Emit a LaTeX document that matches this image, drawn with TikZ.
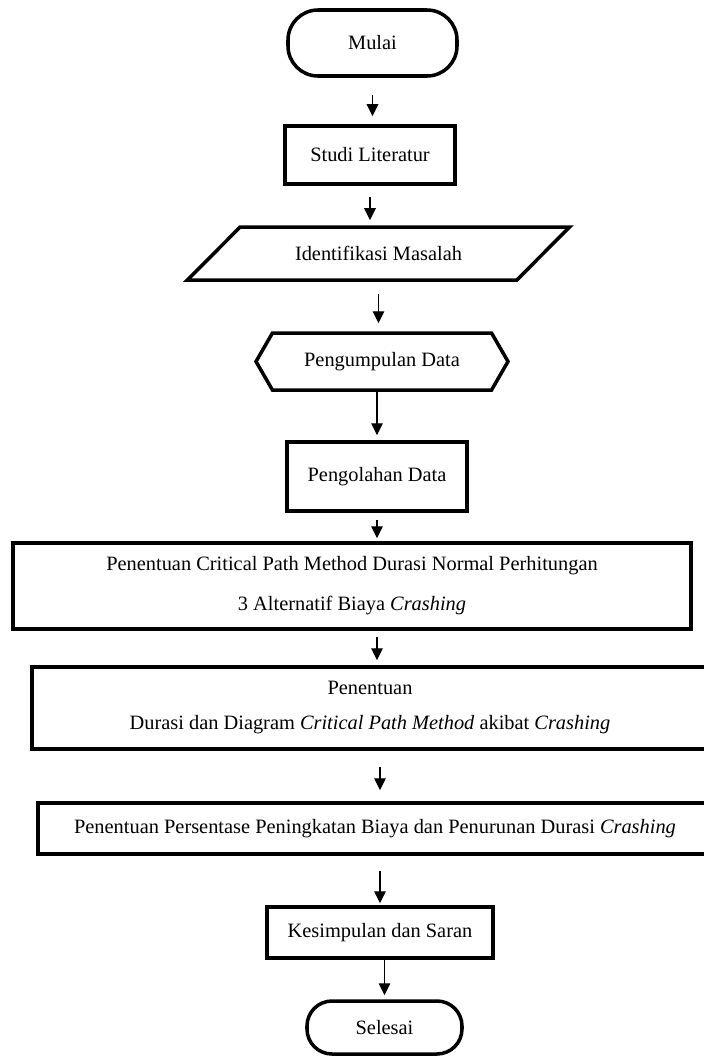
\documentclass[tikz,border=0pt]{standalone}
\usepackage{fontspec}
\setmainfont{Liberation Serif}
\usetikzlibrary{arrows.meta,shapes.geometric,shapes.symbols}

\begin{document}
\begin{tikzpicture}[
    font={\fontsize{11.6}{19.9}\selectfont},
    box/.style={rectangle, draw, line width=2pt, align=center, inner sep=2pt},
    term/.style={box, rounded corners=0.6cm},
    io/.style={trapezium, draw, line width=2pt, trapezium left angle=33,
               trapezium right angle=147, trapezium stretches=true, inner sep=2pt},
    prep/.style={signal, signal to=east and west, signal pointer angle=120,
                 draw, line width=2pt, inner sep=2pt},
    arr/.style={-{Triangle[length=2.4mm, width=2.3mm]}, line width=0.8pt}
]
    \useasboundingbox (0,0) rectangle (14.08,-21.12);

    % Upper part
    \node[term, minimum width=3.38cm, minimum height=1.32cm] (mulai) at (7.45,-0.86) {Mulai};
    \node[box, minimum width=3.4cm, minimum height=1.16cm] (studi) at (7.40,-3.10) {Studi Literatur};
    \node[io, minimum width=7.66cm, minimum height=1.06cm] (ident) at (7.57,-5.07) {Identifikasi Masalah};
    \node[prep, minimum width=5.04cm, minimum height=1.14cm] (kumpul) at (7.64,-7.23) {Pengumpulan Data};
    \node[box, minimum width=3.6cm, minimum height=1.38cm] (olah) at (7.54,-9.53) {Pengolahan Data};

    % Wide boxes
    \node[box, minimum width=13.56cm, minimum height=1.72cm] (cpm) at (7.04,-11.72)
        {Penentuan Critical Path Method Durasi Normal Perhitungan\\[2.9pt]
         3 Alternatif Biaya \textit{Crashing}};
    \node[box, minimum width=13.52cm, minimum height=1.64cm] (durasi) at (7.40,-14.16)
        {Penentuan\\
         Durasi dan Diagram \textit{Critical Path Method} akibat \textit{Crashing}};
    \node[box, minimum width=13.48cm, minimum height=1.02cm] (persen) at (7.50,-16.57)
        {Penentuan Persentase Peningkatan Biaya dan Penurunan Durasi \textit{Crashing}};

    % End
    \node[box, minimum width=4.52cm, minimum height=1.02cm] (simpul) at (7.60,-18.65) {Kesimpulan dan Saran};
    \node[term, minimum width=3.1cm, minimum height=1.06cm, rounded corners=0.5cm] (selesai) at (7.69,-20.55) {Selesai};

    % Arrows
    \draw[arr, shorten <=0.34cm, shorten >=0.16cm] (mulai.south) -- (mulai.south |- studi.north);
    \draw[arr, shorten <=0.22cm, shorten >=0.1cm] (studi.south) -- (studi.south |- ident.north);
    \draw[arr, shorten <=0.24cm, shorten >=0.16cm] (ident.south) -- (ident.south |- kumpul.north);
    \draw[arr, shorten >=0.1cm] (kumpul.south -| olah) -- (olah.north);
    \draw[arr, shorten <=0.14cm, shorten >=0.06cm] (olah.south) -- (olah.south |- cpm.north);
    \draw[arr, shorten <=0.12cm, shorten >=0.1cm] (cpm.south -| olah) -- (durasi.north -| olah);
    \draw[arr, shorten <=0.32cm, shorten >=0.22cm] (durasi.south -| simpul) -- (persen.north -| simpul);
    \draw[arr, shorten <=0.3cm, shorten >=0.04cm] (persen.south -| simpul) -- (simpul.north);
    \draw[arr, shorten >=0.08cm] (simpul.south -| selesai) -- (selesai.north);
\end{tikzpicture}
\end{document}
